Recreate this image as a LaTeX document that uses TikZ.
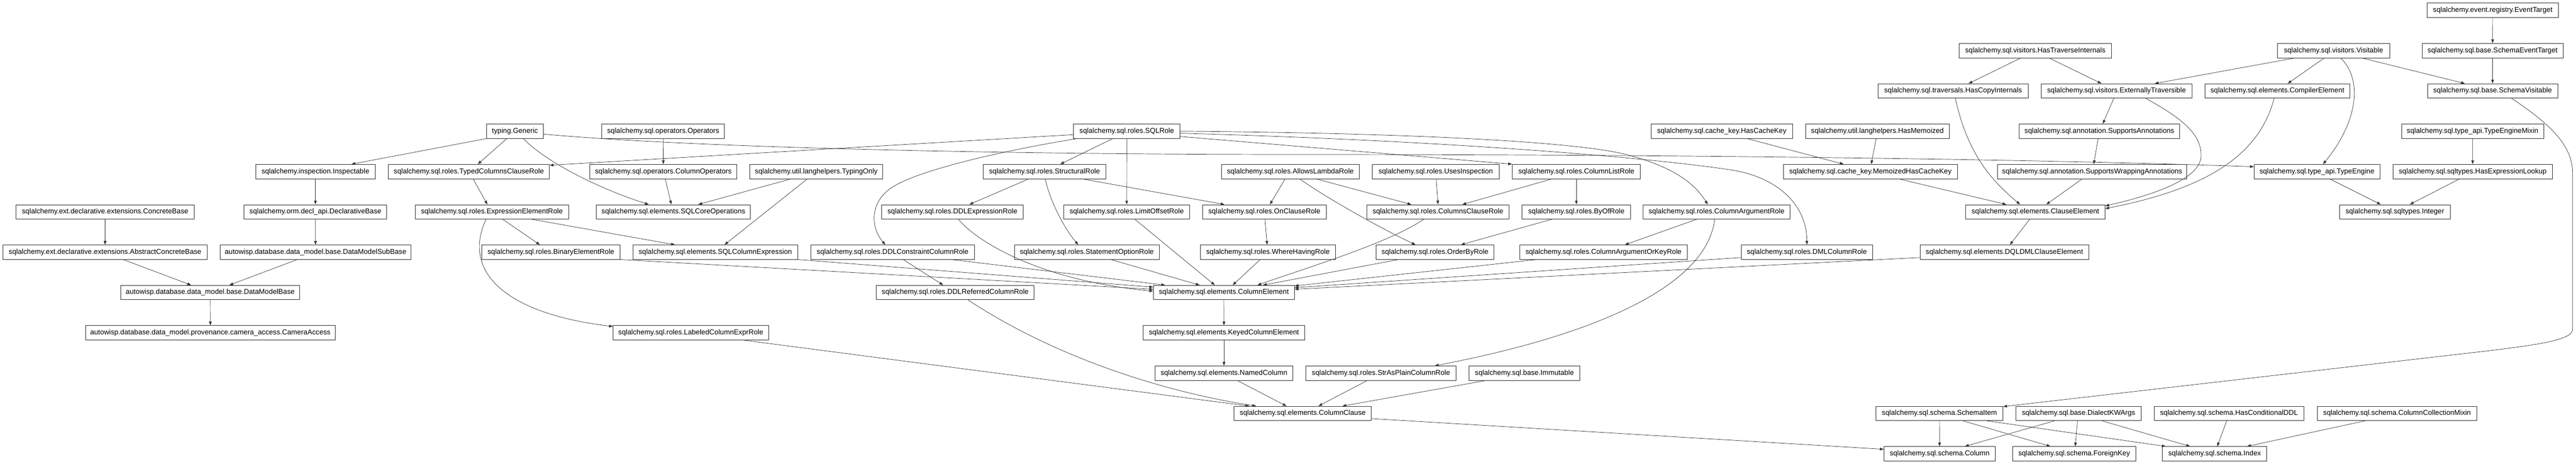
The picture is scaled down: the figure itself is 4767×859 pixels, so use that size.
\documentclass[tikz,border=0pt]{standalone}
\usepackage{fontspec}
\setmainfont{Liberation Sans}
\usetikzlibrary{calc,arrows.meta}
\tikzset{
  cls/.style={draw=black!80, line width=0.8pt, rectangle, minimum height=26.6pt, inner xsep=4pt, inner ysep=0pt, font=\fontsize{13.2}{15}\selectfont, text=black},
  edge/.style={draw=black!80, line width=0.7pt, -{Triangle[length=7pt,width=5pt]}}
}
\begin{document}
\begin{tikzpicture}[x=1pt,y=-1pt]
\fill[white] (0,0) rectangle (4767,859);
\useasboundingbox (0,0) rectangle (4767,859);
% nodes
\node[cls,minimum width=220.4pt] (insp) at (583.7,317.6) {sqlalchemy.inspection.Inspectable};
\node[cls,minimum width=330.1pt] (concrete) at (194.6,392.2) {sqlalchemy.ext.declarative.extensions.ConcreteBase};
\node[cls,minimum width=264.3pt] (declbase) at (583.7,392.2) {sqlalchemy.orm.decl\_api.DeclarativeBase};
\node[cls,minimum width=378.6pt] (absconcrete) at (194.4,466.8) {sqlalchemy.ext.declarative.extensions.AbstractConcreteBase};
\node[cls,minimum width=353.6pt] (dmsub) at (583.9,466.8) {autowisp.database.data\_model.base.DataModelSubBase};
\node[cls,minimum width=331.1pt] (dmbase) at (389,541.5) {autowisp.database.data\_model.base.DataModelBase};
\node[cls,minimum width=462.2pt] (camera) at (389.3,616.1) {autowisp.database.data\_model.provenance.camera\_access.CameraAccess};
\node[cls,minimum width=105.1pt] (generic) at (953,242.9) {typing.Generic};
\node[cls,minimum width=227pt] (operators) at (1227.3,242.9) {sqlalchemy.sql.operators.Operators};
\node[cls,minimum width=298.4pt] (typedcc) at (867.6,317.6) {sqlalchemy.sql.roles.TypedColumnsClauseRole};
\node[cls,minimum width=271.5pt] (colops) at (1227.5,317.6) {sqlalchemy.sql.operators.ColumnOperators};
\node[cls,minimum width=246.4pt] (typingonly) at (1510.5,317.6) {sqlalchemy.util.langhelpers.TypingOnly};
\node[cls,minimum width=283.6pt] (exprelem) at (910.2,392.2) {sqlalchemy.sql.roles.ExpressionElementRole};
\node[cls,minimum width=285.2pt] (sqlcore) at (1246.2,392.2) {sqlalchemy.sql.elements.SQLCoreOperations};
\node[cls,minimum width=255.6pt] (binelem) at (1019.6,466.8) {sqlalchemy.sql.roles.BinaryElementRole};
\node[cls,minimum width=304.6pt] (sqlcolexpr) at (1323.7,466.8) {sqlalchemy.sql.elements.SQLColumnExpression};
\node[cls,minimum width=302.6pt] (ddlcons) at (1651.8,466.8) {sqlalchemy.sql.roles.DDLConstraintColumnRole};
\node[cls,minimum width=287.2pt] (labeled) at (1278.3,616.1) {sqlalchemy.sql.roles.LabeledColumnExprRole};
\node[cls,minimum width=197pt] (sqlrole) at (2085.2,242.9) {sqlalchemy.sql.roles.SQLRole};
\node[cls,minimum width=227pt] (structural) at (1932.9,317.6) {sqlalchemy.sql.roles.StructuralRole};
\node[cls,minimum width=255.1pt] (allowslambda) at (2387.8,317.6) {sqlalchemy.sql.roles.AllowsLambdaRole};
\node[cls,minimum width=261.8pt] (ddlexpr) at (1762.5,392.2) {sqlalchemy.sql.roles.DDLExpressionRole};
\node[cls,minimum width=233.1pt] (limitoffset) at (2085,392.2) {sqlalchemy.sql.roles.LimitOffsetRole};
\node[cls,minimum width=228.6pt] (onclause) at (2339.8,392.2) {sqlalchemy.sql.roles.OnClauseRole};
\node[cls,minimum width=268.4pt] (stmtopt) at (2011.2,466.8) {sqlalchemy.sql.roles.StatementOptionRole};
\node[cls,minimum width=250pt] (wherehaving) at (2346.4,466.8) {sqlalchemy.sql.roles.WhereHavingRole};
\node[cls,minimum width=292.4pt] (ddlref) at (1767.6,541.5) {sqlalchemy.sql.roles.DDLReferredColumnRole};
\node[cls,minimum width=261.2pt] (colelem) at (2264.8,541.5) {sqlalchemy.sql.elements.ColumnElement};
\node[cls,minimum width=298.5pt] (keyed) at (2265,616.1) {sqlalchemy.sql.elements.KeyedColumnElement};
\node[cls,minimum width=255.7pt] (named) at (2265,690.8) {sqlalchemy.sql.elements.NamedColumn};
\node[cls,minimum width=254.1pt] (colclause) at (2410.7,765.4) {sqlalchemy.sql.elements.ColumnClause};
\node[cls,minimum width=235.2pt] (usesinsp) at (2656.9,317.6) {sqlalchemy.sql.roles.UsesInspection};
\node[cls,minimum width=237.2pt] (collist) at (2917.1,317.6) {sqlalchemy.sql.roles.ColumnListRole};
\node[cls,minimum width=262.7pt] (colsclause) at (2661,392.2) {sqlalchemy.sql.roles.ColumnsClauseRole};
\node[cls,minimum width=200.5pt] (byof) at (2917.1,392.2) {sqlalchemy.sql.roles.ByOfRole};
\node[cls,minimum width=271.4pt] (colarg) at (3176.5,392.2) {sqlalchemy.sql.roles.ColumnArgumentRole};
\node[cls,minimum width=262.2pt] (hascachekey) at (3186.2,242.9) {sqlalchemy.sql.cache\_key.HasCacheKey};
\node[cls,minimum width=218.4pt] (orderby) at (2655.6,466.8) {sqlalchemy.sql.roles.OrderByRole};
\node[cls,minimum width=309.2pt] (colargkey) at (2967.4,466.8) {sqlalchemy.sql.roles.ColumnArgumentOrKeyRole};
\node[cls,minimum width=277.6pt] (strasplain) at (2555.6,690.8) {sqlalchemy.sql.roles.StrAsPlainColumnRole};
\node[cls,minimum width=205.1pt] (immutable) at (2821,690.8) {sqlalchemy.sql.base.Immutable};
\node[cls,minimum width=282.7pt] (hastrav) at (3766.4,93.6) {sqlalchemy.sql.visitors.HasTraverseInternals};
\node[cls,minimum width=277.5pt] (hascopy) at (3614.3,168.3) {sqlalchemy.sql.traversals.HasCopyInternals};
\node[cls,minimum width=279.3pt] (exttrav) at (3916.7,168.3) {sqlalchemy.sql.visitors.ExternallyTraversible};
\node[cls,minimum width=265.8pt] (hasmemo) at (3474.2,242.9) {sqlalchemy.util.langhelpers.HasMemoized};
\node[cls,minimum width=296.5pt] (suppann) at (3885,242.9) {sqlalchemy.sql.annotation.SupportsAnnotations};
\node[cls,minimum width=322.4pt] (memocache) at (3461.2,317.6) {sqlalchemy.sql.cache\_key.MemoizedHasCacheKey};
\node[cls,minimum width=350.4pt] (suppwrap) at (3871.6,317.6) {sqlalchemy.sql.annotation.SupportsWrappingAnnotations};
\node[cls,minimum width=257.6pt] (clauseelem) at (3766.6,392.2) {sqlalchemy.sql.elements.ClauseElement};
\node[cls,minimum width=243.4pt] (dmlcol) at (3343.6,466.8) {sqlalchemy.sql.roles.DMLColumnRole};
\node[cls,minimum width=312.3pt] (dqldml) at (3709.2,466.8) {sqlalchemy.sql.elements.DQLDMLClauseElement};
\node[cls,minimum width=235.2pt] (schemaitem) at (3589,765.4) {sqlalchemy.sql.schema.SchemaItem};
\node[cls,minimum width=231.6pt] (dialectkw) at (3846.4,765.4) {sqlalchemy.sql.base.DialectKWArgs};
\node[cls,minimum width=206.1pt] (column) at (3589.3,840) {sqlalchemy.sql.schema.Column};
\node[cls,minimum width=227.5pt] (foreignkey) at (3838.3,840) {sqlalchemy.sql.schema.ForeignKey};
\node[cls,minimum width=243pt] (eventtarget) at (4612.9,19) {sqlalchemy.event.registry.EventTarget};
\node[cls,minimum width=208.8pt] (visitable) at (4318.3,93.6) {sqlalchemy.sql.visitors.Visitable};
\node[cls,minimum width=261.5pt] (schemaevent) at (4612.6,93.6) {sqlalchemy.sql.base.SchemaEventTarget};
\node[cls,minimum width=268pt] (compiler) at (4214.4,168.3) {sqlalchemy.sql.elements.CompilerElement};
\node[cls,minimum width=241.3pt] (schemavis) at (4612.6,168.3) {sqlalchemy.sql.base.SchemaVisitable};
\node[cls,minimum width=263.5pt] (typemixin) at (4575.6,242.9) {sqlalchemy.sql.type\_api.TypeEngineMixin};
\node[cls,minimum width=232.9pt] (typeengine) at (4287.6,317.6) {sqlalchemy.sql.type\_api.TypeEngine};
\node[cls,minimum width=295.1pt] (hasexpr) at (4575.8,317.6) {sqlalchemy.sql.sqltypes.HasExpressionLookup};
\node[cls,minimum width=204.8pt] (integer) at (4431.7,392.2) {sqlalchemy.sql.sqltypes.Integer};
\node[cls,minimum width=277.6pt] (hascond) at (4124.8,765.4) {sqlalchemy.sql.schema.HasConditionalDDL};
\node[cls,minimum width=295.1pt] (colcoll) at (4435.8,765.4) {sqlalchemy.sql.schema.ColumnCollectionMixin};
\node[cls,minimum width=193.2pt] (index) at (4098.2,840) {sqlalchemy.sql.schema.Index};
% edges
\draw[edge] (generic.south west) -- ($(insp.north)+(66.8,0)$);
\draw[edge] ($(generic.south)+(-15.2,0)$) -- ($(typedcc.north)+(16.6,0)$);
\draw[edge] ($(generic.south)+(15.4,0)$) .. controls (1010,300) and (1110,350) .. ($(sqlcore.north)+(-45.7,0)$);
\draw[edge] ($(generic.east)+(0,5.4)$) .. controls (1300,275) and (1900,286) .. (2400,286) .. controls (3300,286) and (3900,299) .. ($(typeengine.west)+(0,-9)$);
\draw[edge] ($(sqlrole.west)+(0,6.4)$) -- ($(typedcc.north east)+(0,2)$);
\draw[edge] (operators) -- (colops);
\draw[edge] ($(typedcc.south)+(7.9,0)$) -- ($(exprelem.north)+(-8.2,0)$);
\draw[edge] ($(colops.south)+(3.6,0)$) -- ($(sqlcore.north)+(-3.9,0)$);
\draw[edge] ($(typingonly.south)+(-47.2,0)$) -- ($(sqlcore.north)+(46.1,0)$);
\draw[edge] ($(typingonly.south)+(-16.6,0)$) -- ($(sqlcolexpr.north)+(17.1,0)$);
\draw[edge] ($(exprelem.south)+(19.9,0)$) -- ($(binelem.north)+(-20.6,0)$);
\draw[edge] ($(exprelem.south)+(73.5,0)$) -- ($(sqlcolexpr.north)+(-74.7,0)$);
\draw[edge] ($(exprelem.south)+(-10.7,0)$) .. controls (855,500) and (930,580) .. ($(labeled.north west)+(0,2)$);
\draw[edge] (binelem.south east) -- ($(colelem.west)+(0,-6)$);
\draw[edge] (sqlcolexpr.south east) -- ($(colelem.west)+(0,-10)$);
\draw[edge] ($(ddlcons.south)+(108.9,0)$) -- ($(colelem.north)+(-108.7,0)$);
\draw[edge] ($(ddlcons.south)+(19.6,0)$) -- ($(ddlref.north)+(-22.2,0)$);
\draw[edge] ($(labeled.south)+(98.2,0)$) -- ($(colclause.north)+(-99,0)$);
\draw[edge] ($(ddlref.south)+(23.7,0)$) .. controls (1950,660) and (2150,725) .. ($(colclause.north)+(-86.2,0)$);
\draw[edge] ($(sqlrole.south)+(-92.3,0)$) .. controls (1850,280) and (1700,315) .. (1651,346.7) .. controls (1610,373) and (1610,420) .. ($(ddlcons.north)+(-13.5,0)$);
\draw[edge] ($(sqlrole.south)+(-26,0)$) -- ($(structural.north)+(29.3,0)$);
\draw[edge] (sqlrole) -- (limitoffset);
\draw[edge] ($(sqlrole.east)+(0,9.8)$) -- (collist.north west);
\draw[edge] (sqlrole.east) .. controls (2600,246) and (2920,262) .. (3012,286.7) .. controls (3080,305) and (3130,330) .. ($(colarg.north)+(-16.3,0)$);
\draw[edge] ($(sqlrole.east)+(0,3.8)$) .. controls (2600,258) and (3000,285) .. (3200,314) .. controls (3290,327) and (3344,380) .. (dmlcol.north);
\draw[edge] ($(structural.south)+(-29.3,0)$) -- ($(ddlexpr.north)+(31.4,0)$);
\draw[edge] ($(structural.south)+(1.3,0)$) .. controls (1945,380) and (1975,430) .. ($(stmtopt.north)+(-15.8,0)$);
\draw[edge] ($(structural.south)+(70.1,0)$) -- ($(onclause.north)+(-74,0)$);
\draw[edge] ($(allowslambda.south)+(-9.8,0)$) -- ($(onclause.north)+(10.2,0)$);
\draw[edge] ($(allowslambda.south)+(47.9,0)$) -- ($(colsclause.north)+(-49.3,0)$);
\draw[edge] ($(allowslambda.south)+(17.3,0)$) .. controls (2460,370) and (2560,425) .. ($(orderby.north)+(-36.2,0)$);
\draw[edge] ($(usesinsp.south)+(0.8,0)$) -- (colsclause.north);
\draw[edge] ($(collist.south)+(-45.2,0)$) -- ($(colsclause.north)+(45.1,0)$);
\draw[edge] (collist.south) -- (byof.north);
\draw[edge] ($(colsclause.south)+(-26.3,0)$) .. controls (2570,450) and (2420,495) .. ($(colelem.north)+(62.2,0)$);
\draw[edge] ($(byof.south)+(-45.2,0)$) -- ($(orderby.north)+(48,0)$);
\draw[edge] ($(orderby.south)+(-67.8,0)$) -- ($(colelem.north)+(72.4,0)$);
\draw[edge] ($(colargkey.south)+(-123.5,0)$) -- ($(colelem.north east)+(0,1.5)$);
\draw[edge] ($(dmlcol.west)+(0,10)$) -- ($(colelem.east)+(0,-9)$);
\draw[edge] ($(dqldml.west)+(0,10)$) -- ($(colelem.east)+(0,-6)$);
\draw[edge] ($(colarg.south)+(-36.7,0)$) -- ($(colargkey.north)+(39.7,0)$);
\draw[edge] ($(colarg.south)+(-3.5,0)$) .. controls (3160,520) and (2980,615) .. ($(strasplain.north)+(99.5,0)$);
\draw[edge] ($(onclause.south)+(1,0)$) -- ($(wherehaving.north)+(-1.5,0)$);
\draw[edge] ($(wherehaving.south)+(-14.3,0)$) -- ($(colelem.north)+(16.3,0)$);
\draw[edge] ($(limitoffset.south)+(15,0)$) -- ($(colelem.north)+(-16.8,0)$);
\draw[edge] ($(stmtopt.south)+(44.4,0)$) -- ($(colelem.north)+(-44.9,0)$);
\draw[edge] ($(ddlexpr.south)+(11,0)$) .. controls (1810,450) and (1930,520) .. ($(colelem.west)+(0,-2.5)$);
\draw[edge] (colelem) -- (keyed);
\draw[edge] (keyed) -- (named);
\draw[edge] ($(named.south)+(24.8,0)$) -- ($(colclause.north)+(-30.1,0)$);
\draw[edge] ($(strasplain.south)+(-25.5,0)$) -- ($(colclause.north)+(29.1,0)$);
\draw[edge] ($(immutable.south)+(-71.5,0)$) -- ($(colclause.north)+(73.5,0)$);
\draw[edge] ($(colclause.east)+(0,9.6)$) -- ($(column.west)+(0,-8.3)$);
\draw[edge] ($(hastrav.south)+(-26.6,0)$) -- ($(hascopy.north)+(28.6,0)$);
\draw[edge] ($(hastrav.south)+(25.4,0)$) -- ($(exttrav.north)+(-27.9,0)$);
\draw[edge] ($(hascopy.south)+(4.1,0)$) .. controls (3640,280) and (3680,330) .. ($(clauseelem.north)+(-28.3,0)$);
\draw[edge] ($(exttrav.south)+(-5,0)$) -- ($(suppann.north)+(6.3,0)$);
\draw[edge] ($(exttrav.south)+(53.7,0)$) .. controls (4040,220) and (4075,250) .. (4073,290) .. controls (4071,330) and (3990,360) .. ($(clauseelem.east)+(0,-11)$);
\draw[edge] ($(compiler.south)+(-6,0)$) .. controls (4180,290) and (4080,350) .. ($(clauseelem.east)+(0,-6)$);
\draw[edge] ($(visitable.south)+(-70.8,0)$) -- ($(exttrav.north)+(70.8,0)$);
\draw[edge] ($(visitable.south)+(-17,0)$) -- ($(compiler.north)+(19.1,0)$);
\draw[edge] ($(visitable.south)+(13.1,0)$) .. controls (4375,150) and (4360,230) .. ($(typeengine.north)+(11.2,0)$);
\draw[edge] ($(visitable.south)+(52.2,0)$) -- ($(schemavis.north)+(-51.3,0)$);
\draw[edge] (eventtarget) -- (schemaevent);
\draw[edge] (schemaevent) -- (schemavis);
\draw[edge] ($(schemavis.south)+(35,0)$) .. controls (4720,230) and (4760.6,270) .. (4760.6,320) -- (4760.6,610) .. controls (4760.6,630) and (4690,639) .. (4600,650) -- ($(schemaitem.north east)+(0,1)$);
\draw[edge] ($(hascachekey.south)+(47,0)$) -- ($(memocache.north)+(-49.5,0)$);
\draw[edge] ($(hasmemo.south)+(-2.3,0)$) -- ($(memocache.north)+(1.6,0)$);
\draw[edge] ($(suppann.south)+(-2.4,0)$) -- ($(suppwrap.north)+(2.9,0)$);
\draw[edge] ($(memocache.south)+(52.6,0)$) -- ($(clauseelem.north)+(-53.8,0)$);
\draw[edge] ($(suppwrap.south)+(-18.6,0)$) -- ($(clauseelem.north)+(20.1,0)$);
\draw[edge] ($(clauseelem.south)+(-10.5,0)$) -- ($(dqldml.north)+(10.2,0)$);
\draw[edge] ($(typeengine.south)+(23.7,0)$) -- ($(integer.north)+(-26,0)$);
\draw[edge] ($(hasexpr.south)+(-24.6,0)$) -- ($(integer.north)+(27.7,0)$);
\draw[edge] (typemixin) -- (hasexpr);
\draw[edge] (schemaitem) -- (column);
\draw[edge] ($(schemaitem.south)+(43.6,0)$) -- ($(foreignkey.north)+(-43.9,0)$);
\draw[edge] ($(schemaitem.south)+(88,0)$) -- ($(index.north)+(-90.6,0)$);
\draw[edge] ($(dialectkw.south)+(-44.4,0)$) -- ($(column.north)+(46.9,0)$);
\draw[edge] ($(dialectkw.south)+(-2,0)$) -- ($(foreignkey.north)+(2,0)$);
\draw[edge] ($(dialectkw.south)+(43.4,0)$) -- ($(index.north)+(-45.4,0)$);
\draw[edge] ($(hascond.south)+(-4.2,0)$) -- ($(index.north)+(4.8,0)$);
\draw[edge] ($(colcoll.south)+(-59.2,0)$) -- ($(index.north)+(60,0)$);
\draw[edge] (insp) -- (declbase);
\draw[edge] (concrete) -- (absconcrete);
\draw[edge] (declbase) -- (dmsub);
\draw[edge] ($(absconcrete.south)+(33.6,0)$) -- ($(dmbase.north)+(-35.4,0)$);
\draw[edge] ($(dmsub.south)+(-33.9,0)$) -- ($(dmbase.north)+(35.5,0)$);
\draw[edge] (dmbase) -- (camera);
\end{tikzpicture}
\end{document}
